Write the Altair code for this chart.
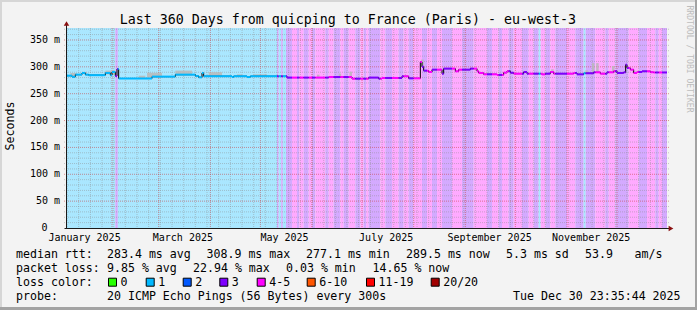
import datetime as dt
import altair as alt
import pandas as pd

# ---------------- data ----------------
T0 = dt.datetime(2025, 1, 4, 23, 35, 44)   # graph start (end = Dec 30 23:35:44)
SPAN = 360.0

def day_of(t):
    return (t - T0).total_seconds() / 86400.0

# median rtt (step breakpoints: day offset, ms)
median_day = [0, 3, 5, 9, 11, 13, 23, 26, 27, 29, 30, 31, 51, 65, 77, 79, 81, 82, 99, 100,
              108, 110, 132, 157, 171, 181, 187, 189, 201, 205, 212, 213, 214, 217, 219, 225,
              226, 233, 235, 242, 246, 247, 250, 258, 262, 264, 266, 268, 274, 276, 285, 287,
              290, 292, 304, 306, 310, 316, 320, 324, 328, 330, 334, 335.2, 336, 338, 340, 342,
              345, 350, 352]
median_ms = [283.6, 281.5, 285.5, 288.6, 285.5, 284.5, 288.6, 284.5, 290.4, 283.0, 296.0, 278.3,
             281.8, 285.5, 283.0, 280.5, 288.6, 282.5, 281.0, 282.5, 281.0, 282.5, 280.0, 281.0,
             278.0, 280.0, 278.0, 279.3, 282.4, 278.6, 309.0, 300.0, 292.9, 290.4, 294.8, 287.3,
             296.7, 291.7, 294.8, 296.7, 292.0, 288.6, 286.1, 285.0, 289.2, 292.0, 289.0, 287.3,
             290.4, 287.3, 286.0, 287.3, 290.4, 287.3, 288.6, 286.0, 288.0, 289.8, 287.3, 289.8,
             292.0, 288.6, 289.8, 304.0, 297.9, 294.8, 288.6, 290.4, 291.7, 290.0, 289.5]

# loss background runs (start day, loss class)
band_start = [0, 29, 30.5, 126, 127, 128.5, 129.5, 131.4, 135, 138, 139.4, 142, 145, 147, 149,
              155, 157, 160, 164, 166, 169, 173, 176, 178, 179.5, 181, 188, 191, 195, 199, 202,
              205, 208, 213, 216, 219, 222, 225, 231, 237, 244, 252, 255, 259, 261, 265, 268,
              273, 277, 280, 283, 284.2, 287, 290, 293, 300, 305, 310, 311.2, 317, 323, 325,
              329, 337, 343, 348, 353, 355, 357]
band_loss = ["1", "3", "1", "3", "1", "3", "1", "3", "4-5", "3", "4-5", "3", "4-5", "3", "4-5",
             "3", "4-5", "3", "4-5", "3", "4-5", "3", "4-5", "3", "4-5", "3", "4-5", "3", "4-5",
             "3", "4-5", "3", "4-5", "3", "4-5", "3", "4-5", "3", "4-5", "3", "4-5", "3", "4-5",
             "3", "4-5", "3", "4-5", "3", "4-5", "3", "1", "4-5", "3", "4-5", "3", "4-5", "3",
             "1", "3", "4-5", "3", "4-5", "3", "4-5", "3", "4-5", "3", "4-5", "3"]

# smoke (grey spread above the median)
smoke_start = [2, 9, 23, 43, 48, 65, 85, 102, 112, 150, 163, 169.5, 177, 212.5, 290.5, 311, 315, 317.5, 327, 341]
smoke_end = [6, 12, 29, 47, 57, 75, 93, 105, 120, 151.5, 164.5, 171, 178, 214, 292, 312.5, 316.5, 319, 328.5, 344]
smoke_lo = [283, 287, 286, 279, 280, 284, 283, 282, 282, 280, 281, 281, 278, 300, 290, 288, 289, 289, 292, 290]
smoke_hi = [288.5, 290.5, 293, 283.5, 289, 293, 290, 286, 286, 285.5, 287.5, 291, 282, 313.5, 295.5, 293.5, 307, 307, 301.5, 292.5]

y_ticks = [0, 50, 100, 150, 200, 250, 300, 350]
y_tick_labels = ["0", "50 m", "100 m", "150 m", "200 m", "250 m", "300 m", "350 m"]
month_labels = ["January 2025", "March 2025", "May 2025", "July 2025", "September 2025", "November 2025"]
month_label_months = [1, 3, 5, 7, 9, 11]

loss_names = ["0", "1", "2", "3", "4-5", "6-10", "11-19", "20/20"]
loss_colors = ["#26ff00", "#00b8ff", "#0059ff", "#7e00ff", "#ff00ff", "#ff5500", "#ff0000", "#a10000"]
band_colors = {"1": "#aae7ff", "3": "#d4aaff", "4-5": "#ffaaff"}
line_colors = {"1": "#00b8ff", "3": "#7e00ff", "4-5": "#ff00ff"}

title_text = "Last 360 Days from quicping to France (Paris) - eu-west-3"
legend_rows = [
    [("median rtt:", 16), ("283.4 ms avg", 107), ("308.9 ms max", 206.5), ("277.1 ms min", 306),
     ("289.5 ms now", 406), ("5.3 ms sd", 506), ("53.9", 585), ("am/s", 634.5)],
    [("packet loss:", 16), ("9.85 % avg", 107), ("22.94 % max", 193), ("0.03 % min", 286),
     ("14.65 % now", 372.5)],
    [("loss color:", 16)],
    [("probe:", 16), ("20 ICMP Echo Pings (56 Bytes) every 300s", 107), ("Tue Dec 30 23:35:44 2025", 513)],
]
legend_baselines = [258, 272, 286, 300]
box_lefts = [108, 145.7, 182.7, 219.3, 256.7, 306.7, 366, 430.7]

# ---------------- layout helpers ----------------
OX, OY = 67, 28          # plot origin in the page
W, H = 600, 200
YMAX = 372.3
FONT = "DejaVu Sans Mono"

xs = alt.Scale(domain=[0, SPAN], nice=False, zero=False)
ys = alt.Scale(domain=[0, YMAX], nice=False, zero=False)


def band_at(d):
    c = band_loss[0]
    for s, l in zip(band_start, band_loss):
        if s <= d:
            c = l
    return c


def median_at(d):
    v = median_ms[0]
    for s, m in zip(median_day, median_ms):
        if s <= d:
            v = m
    return v


# background bands
b_end = band_start[1:] + [SPAN]
bands = pd.DataFrame({"s": band_start, "e": b_end,
                      "col": [band_colors[c] for c in band_loss]})

# colored median segments
bounds = sorted(set(median_day) | set(band_start) | {SPAN})
seg = pd.DataFrame({
    "s": bounds[:-1], "e": bounds[1:],
    "v": [median_at(a) for a in bounds[:-1]],
    "col": [line_colors[band_at(a)] for a in bounds[:-1]],
})
med = pd.DataFrame({"d": median_day + [SPAN], "v": median_ms + [median_ms[-1]]})

smoke = pd.DataFrame({"s": smoke_start, "e": smoke_end, "lo": smoke_lo, "hi": smoke_hi})

# grid positions from the calendar
minor_h = pd.DataFrame({"v": [v for v in range(10, 371, 10) if v % 50]})
major_h = pd.DataFrame({"v": [v for v in range(50, 371, 50)]})
sundays = []
t = dt.datetime(2025, 1, 5)
while day_of(t) < SPAN:
    sundays.append(day_of(t))
    t += dt.timedelta(days=7)
minor_v = pd.DataFrame({"d": sundays})
major_v = pd.DataFrame({"d": [day_of(dt.datetime(2025, m, 1)) for m in range(2, 13)]})
mlabels = pd.DataFrame({"d": [day_of(dt.datetime(2025, m, 15, 12)) for m in month_label_months],
                        "t": month_labels})
ylabels = pd.DataFrame({"v": y_ticks, "t": y_tick_labels,
                        "px": [(-19.5 if v == 0 else -7) for v in y_ticks]})

one = pd.DataFrame({"a": [0]})

layers = []
layers.append(alt.Chart(bands).mark_rect().encode(
    x=alt.X("s:Q", scale=xs, axis=None), x2="e:Q",
    y=alt.value(0), y2=alt.value(H), color=alt.Color("col:N", scale=None)))

layers.append(alt.Chart(minor_h).mark_rule(color="#8c8c8c", opacity=0.45, strokeDash=[1, 1]).encode(
    y=alt.Y("v:Q", scale=ys, axis=None), x=alt.value(-3), x2=alt.value(W + 3)))
layers.append(alt.Chart(minor_v).mark_rule(color="#8c8c8c", opacity=0.45, strokeDash=[1, 1]).encode(
    x=alt.X("d:Q", scale=xs, axis=None), y=alt.value(0), y2=alt.value(H)))
layers.append(alt.Chart(major_h).mark_rule(color="#c83c3c", opacity=0.55, strokeDash=[1, 1]).encode(
    y=alt.Y("v:Q", scale=ys, axis=None), x=alt.value(-3), x2=alt.value(W + 3)))
layers.append(alt.Chart(major_v).mark_rule(color="#c83c3c", opacity=0.55, strokeDash=[1, 1]).encode(
    x=alt.X("d:Q", scale=xs, axis=None), y=alt.value(0), y2=alt.value(H)))

layers.append(alt.Chart(smoke).mark_rect(color="#b9b9b9", opacity=0.85).encode(
    x=alt.X("s:Q", scale=xs, axis=None), x2="e:Q",
    y=alt.Y("lo:Q", scale=ys, axis=None), y2="hi:Q"))

layers.append(alt.Chart(med).mark_line(interpolate="step-after", color="#000000", strokeWidth=1).encode(
    x=alt.X("d:Q", scale=xs, axis=None),
    y=alt.Y("v:Q", scale=ys, axis=None)))

layers.append(alt.Chart(seg).mark_rule(strokeWidth=2).encode(
    x=alt.X("s:Q", scale=xs, axis=None), x2="e:Q",
    y=alt.Y("v:Q", scale=ys, axis=None), color=alt.Color("col:N", scale=None)))

# axis lines and arrows
layers.append(alt.Chart(one).mark_rule(color="#1a1a1a", strokeWidth=1).encode(
    x=alt.value(-2.5), x2=alt.value(W + 3), y=alt.value(H + 0.5)))
layers.append(alt.Chart(one).mark_rule(color="#1a1a1a", strokeWidth=1).encode(
    x=alt.value(-0.5), y=alt.value(-3), y2=alt.value(H + 1)))
layers.append(alt.Chart(one).mark_point(shape="triangle-right", filled=True, size=30, color="#8b1010", opacity=1).encode(
    x=alt.value(W + 4), y=alt.value(H + 0.5)))
layers.append(alt.Chart(one).mark_point(shape="triangle-up", filled=True, size=30, color="#8b1010", opacity=1).encode(
    x=alt.value(-0.5), y=alt.value(-4.5)))

# y tick labels
layers.append(alt.Chart(ylabels).mark_text(font=FONT, fontSize=10, align="right", baseline="middle", color="#000000").encode(
    x=alt.X("px:Q", scale=None), y=alt.Y("v:Q", scale=ys, axis=None), text="t:N"))

# month labels
layers.append(alt.Chart(mlabels).mark_text(font=FONT, fontSize=10, align="center", baseline="alphabetic", color="#000000").encode(
    x=alt.X("d:Q", scale=xs, axis=None), y=alt.value(240.5 - OY), text="t:N"))

# title, y title, watermark
layers.append(alt.Chart(one).mark_text(font=FONT, fontSize=13.3, align="center", baseline="alphabetic", color="#000000",
                                       text=title_text).encode(x=alt.value(347.8 - OX), y=alt.value(24 - OY)))
layers.append(alt.Chart(one).mark_text(font=FONT, fontSize=11.6, align="center", baseline="middle", angle=270, color="#000000",
                                       text="Seconds").encode(x=alt.value(11 - OX), y=alt.value(126 - OY)))
layers.append(alt.Chart(one).mark_text(font=FONT, fontSize=8.1, align="center", baseline="middle", angle=90, color="#bdbdbd",
                                       text="RRDTOOL / TOBI OETIKER").encode(x=alt.value(688.5 - OX), y=alt.value(59 - OY)))

# legend texts
rows = []
for (items, yb) in zip(legend_rows, legend_baselines):
    for txt, xx in items:
        rows.append({"px": xx - OX, "py": yb - OY, "t": txt})
for name, bl in zip(loss_names, box_lefts):
    rows.append({"px": bl + 12.5 - OX, "py": legend_baselines[2] - OY, "t": name})
legend_df = pd.DataFrame(rows)
layers.append(alt.Chart(legend_df).mark_text(font=FONT, fontSize=11.6, align="left", baseline="alphabetic", color="#000000").encode(
    x=alt.X("px:Q", scale=None), y=alt.Y("py:Q", scale=None), text="t:N"))

boxes = pd.DataFrame({"px": [b + 4.5 - OX for b in box_lefts], "py": [282.2 - OY] * len(box_lefts), "col": loss_colors})
layers.append(alt.Chart(boxes).mark_square(size=64, stroke="#000000", strokeWidth=1, opacity=1).encode(
    x=alt.X("px:Q", scale=None), y=alt.Y("py:Q", scale=None), fill=alt.Fill("col:N", scale=None)))

# outer frame
layers.append(alt.Chart(one).mark_rule(color="#d6d6d6", strokeWidth=2).encode(
    x=alt.value(-OX), x2=alt.value(697 - OX), y=alt.value(1 - OY)))
layers.append(alt.Chart(one).mark_rule(color="#d6d6d6", strokeWidth=2).encode(
    x=alt.value(1 - OX), y=alt.value(-OY), y2=alt.value(310 - OY)))
layers.append(alt.Chart(one).mark_rule(color="#a3a3a3", strokeWidth=2).encode(
    x=alt.value(696 - OX), y=alt.value(-OY), y2=alt.value(310 - OY)))
layers.append(alt.Chart(one).mark_rule(color="#a3a3a3", strokeWidth=3).encode(
    x=alt.value(-OX), x2=alt.value(697 - OX), y=alt.value(308.5 - OY)))

chart = alt.layer(*layers).properties(
    width=W, height=H,
    padding={"left": OX, "top": OY, "right": 697 - OX - W, "bottom": 310 - OY - H},
    autosize=alt.AutoSizeParams(type="none"),
    background="#f3f3f3",
).configure_view(stroke=None)

chart.save("out.html", embed_options={"renderer": "svg", "actions": False})
